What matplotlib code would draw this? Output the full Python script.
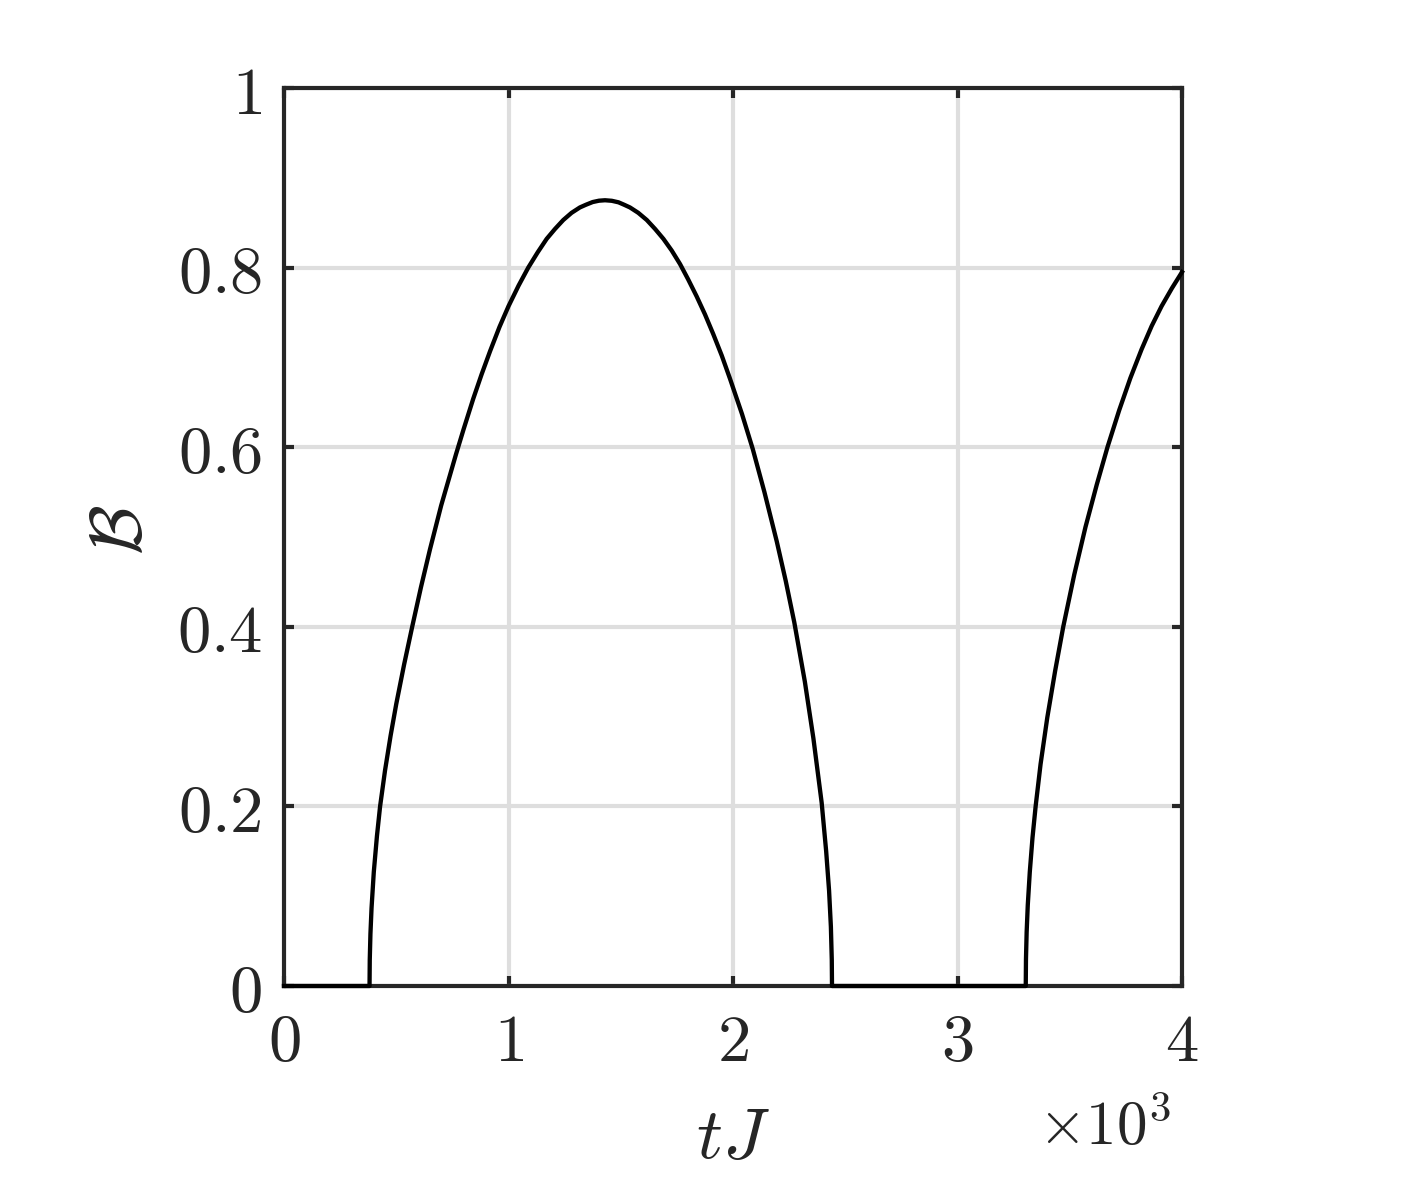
import matplotlib
matplotlib.use("Agg")
import matplotlib.pyplot as plt
import numpy as np

plt.rcParams['mathtext.fontset'] = 'cm'
plt.rcParams['font.family'] = 'DejaVu Serif'

# tJ in units of 10^3
tJ = [0.000, 0.381, 0.382, 0.385, 0.390, 0.400, 0.414, 0.428, 0.450, 0.475,
      0.500, 0.535, 0.571, 0.610, 0.650, 0.700, 0.766, 0.800, 0.843, 0.880,
      0.918, 0.960, 1.000, 1.045, 1.088, 1.130, 1.170, 1.207, 1.244, 1.281,
      1.318, 1.345, 1.375, 1.403, 1.430, 1.460, 1.490, 1.515, 1.541, 1.578,
      1.616, 1.653, 1.690, 1.727, 1.764, 1.800, 1.838, 1.875, 1.912, 1.950,
      1.987, 2.040, 2.088, 2.140, 2.195, 2.235, 2.273, 2.320, 2.358, 2.395,
      2.415, 2.428, 2.436, 2.440, 2.441,
      3.304, 3.305, 3.308, 3.313, 3.322, 3.334, 3.348, 3.370, 3.400, 3.435,
      3.471, 3.520, 3.570, 3.620, 3.668, 3.720, 3.770, 3.820, 3.865, 3.909,
      3.955, 4.000]
B = [0.000, 0.000, 0.029, 0.058, 0.087, 0.127, 0.167, 0.200, 0.240, 0.279,
     0.314, 0.358, 0.400, 0.444, 0.486, 0.535, 0.592, 0.620, 0.654, 0.681,
     0.707, 0.734, 0.757, 0.780, 0.800, 0.817, 0.832, 0.843, 0.853, 0.861,
     0.867, 0.870, 0.873, 0.8745, 0.875, 0.8744, 0.8727, 0.870, 0.867, 0.861,
     0.853, 0.843, 0.832, 0.819, 0.804, 0.787, 0.768, 0.748, 0.726, 0.702,
     0.676, 0.637, 0.598, 0.550, 0.495, 0.451, 0.405, 0.339, 0.276, 0.204,
     0.150, 0.106, 0.066, 0.029, 0.000,
     0.000, 0.030, 0.060, 0.090, 0.127, 0.165, 0.200, 0.247, 0.299, 0.351,
     0.400, 0.458, 0.511, 0.558, 0.600, 0.641, 0.677, 0.709, 0.735, 0.757,
     0.777, 0.795]

xticks = [0, 1, 2, 3, 4]
yticks = [0, 0.2, 0.4, 0.6, 0.8, 1]
xticklabels = [r'$0$', r'$1$', r'$2$', r'$3$', r'$4$']
yticklabels = [r'$0$', r'$0.2$', r'$0.4$', r'$0.6$', r'$0.8$', r'$1$']

txt = '#262626'

fig = plt.figure(figsize=(14.17, 11.81), dpi=100)
ax = fig.add_axes([284/1417, 1 - 986/1181, 898/1417, 898/1181])

ax.plot(tJ, B, color='black', lw=3.1, zorder=3, clip_on=False)

ax.set_xlim(0, 4)
ax.set_ylim(0, 1)
ax.set_xticks(xticks)
ax.set_xticklabels(xticklabels)
ax.set_yticks(yticks)
ax.set_yticklabels(yticklabels)

ax.grid(True, color='#dedede', lw=3, zorder=0)
ax.set_axisbelow(True)
for s in ax.spines.values():
    s.set_color(txt)
    s.set_linewidth(3)
    s.set_zorder(2)

ax.tick_params(direction='in', length=7, width=3, color=txt, labelcolor=txt,
               labelsize=48, top=True, right=True)
ax.tick_params(axis='x', pad=17)
ax.tick_params(axis='y', pad=16)

ax.set_xlabel(r'$tJ$', fontsize=52, color=txt)
ax.xaxis.set_label_coords(0.5, -0.13)
ax.set_ylabel(r'$\mathcal{B}$', fontsize=52, color=txt)
ax.yaxis.set_label_coords(-0.143, 0.508)

ax.text(0.914, -0.158, r'$\times 10^3$', transform=ax.transAxes,
        ha='center', va='center', fontsize=44, color=txt)

fig.savefig('out.png', dpi=100)
